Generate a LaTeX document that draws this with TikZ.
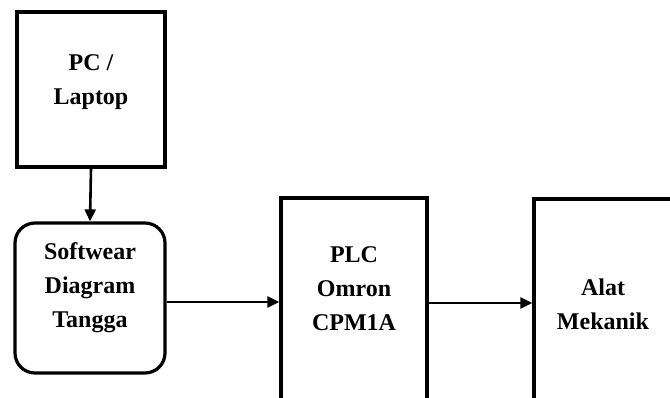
\documentclass[tikz,border=0pt]{standalone}
\usepackage{fontspec}
\setmainfont{Liberation Serif}
\usetikzlibrary{arrows.meta}
\begin{document}
\begin{tikzpicture}[x=1pt,y=-1pt,
  boxstyle/.style={draw=black,line width=3.2pt,inner sep=0pt,fill=none},
  txt/.style={align=center,font=\fontsize{24}{34}\selectfont\bfseries,inner sep=0pt},
  arr/.style={line width=2.6pt,-{Triangle[length=12pt,width=11pt]}}]
\useasboundingbox (0,0) rectangle (670,397);
\clip (0,0) rectangle (670,397);
\node[boxstyle,minimum width=148pt,minimum height=155pt] (pc) at (91,89.5) {};
\node[txt] (pctext) at (91,82) {PC /\\Laptop};
\node[boxstyle,rounded corners=20pt,minimum width=150pt,minimum height=150pt] (sw) at (90,298) {};
\node[txt] (swtext) at (90,288) {Softwear\\Diagram\\Tangga};
\node[boxstyle,minimum width=146pt,minimum height=220pt] (plc) at (354,308) {};
\node[txt] (plctext) at (354,289) {PLC\\Omron\\CPM1A};
\node[boxstyle,minimum width=170pt,minimum height=220pt] (alat) at (619,309) {};
\node[txt] (alattext) at (603,304) {Alat\\Mekanik};
\draw[arr] (pc.south) -- (sw.north);
\draw[arr] ([yshift=-4pt]sw.east) -- ([yshift=-4pt]sw.east -| plc.west);
\draw[arr] ([yshift=-5pt]plc.east |- sw.east) -- ([yshift=-5pt]sw.east -| alat.west);
\end{tikzpicture}
\end{document}
